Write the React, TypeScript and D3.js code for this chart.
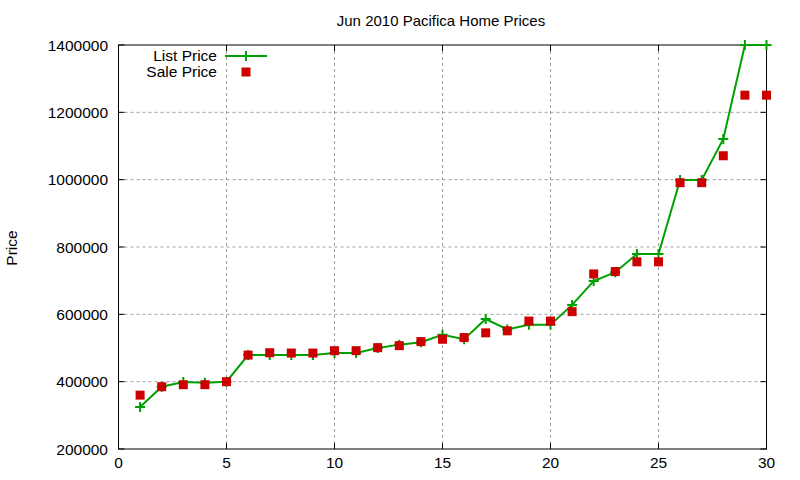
import React from "react";
import * as d3 from "d3";

const days = d3.range(1, 31);
const listPrice = [325000, 385000, 399000, 397000, 400000, 479000, 479000, 479000, 479000, 485000, 485000, 500000, 510000, 517000, 539000, 526000, 586000, 555000, 569000, 569000, 628000, 699000, 725000, 779000, 779000, 999000, 999000, 1121000, 1400000, 1400000];
const salePrice = [360000, 385000, 391000, 391000, 400000, 479000, 486000, 485000, 485000, 492000, 492000, 501000, 507000, 519000, 526000, 531000, 545000, 551000, 580000, 580000, 608000, 720000, 727000, 756000, 756000, 991000, 991000, 1071000, 1251000, 1251000];
const xTicks = [0, 5, 10, 15, 20, 25, 30];
const yTicks = [200000, 400000, 600000, 800000, 1000000, 1200000, 1400000];

const W = 800, H = 480;
const L = 118.5, R = 766.5, T = 45, B = 449;
const FONT = "Liberation Sans, Arial, sans-serif";
const GREEN = "#00a000";
const RED = "#cc0000";

export default function App() {
  const x = d3.scaleLinear().domain([0, 30]).range([L, R]);
  const y = d3.scaleLinear().domain([200000, 1400000]).range([B, T]);
  const line = d3.line<number>().x((_, i) => x(days[i])).y((d) => y(d));
  const tl = 6;
  return (
    <svg width={W} height={H} style={{ position: "absolute", left: 0, top: 0, background: "#fff" }}>
      <rect width={W} height={H} fill="#fff" />
      {/* grid */}
      {xTicks.filter((t) => t > 0 && t < 30).map((t) => (
        <line key={"gx" + t} x1={x(t)} x2={x(t)} y1={T} y2={B} stroke="#a0a0a0" strokeWidth={1} strokeDasharray="3,3" />
      ))}
      {yTicks.filter((t) => t > 200000 && t < 1400000).map((t) => (
        <line key={"gy" + t} x1={L} x2={R} y1={y(t)} y2={y(t)} stroke="#a0a0a0" strokeWidth={1} strokeDasharray="3,3" />
      ))}
      {/* ticks */}
      {xTicks.map((t) => (
        <g key={"tx" + t}>
          <line x1={x(t)} x2={x(t)} y1={B} y2={B - tl} stroke="#000" />
          <line x1={x(t)} x2={x(t)} y1={T} y2={T + tl} stroke="#000" />
          <text x={x(t)} y={468} textAnchor="middle" fontFamily={FONT} fontSize={15.5} fill="#000">{t}</text>
        </g>
      ))}
      {yTicks.map((t) => (
        <g key={"ty" + t}>
          <line x1={L} x2={L + tl} y1={y(t)} y2={y(t)} stroke="#000" />
          <line x1={R} x2={R - tl} y1={y(t)} y2={y(t)} stroke="#000" />
          <text x={108} y={y(t) + 5.5} textAnchor="end" fontFamily={FONT} fontSize={15.5} fill="#000">{t}</text>
        </g>
      ))}
      {/* frame */}
      <rect x={L} y={T} width={R - L} height={B - T} fill="none" stroke="#000" strokeWidth={1} />
      {/* list price line */}
      <path d={line(listPrice) || ""} fill="none" stroke={GREEN} strokeWidth={2} />
      {listPrice.map((v, i) => (
        <path key={"p" + i} d={`M${x(days[i]) - 5},${y(v)}h10M${x(days[i])},${y(v) - 5}v10`} stroke={GREEN} strokeWidth={2} />
      ))}
      {salePrice.map((v, i) => (
        <rect key={"s" + i} x={x(days[i]) - 4.5} y={y(v) - 4.5} width={9} height={9} fill={RED} />
      ))}
      {/* legend */}
      <text x={217} y={61} textAnchor="end" fontFamily={FONT} fontSize={15.5} fill="#000">List Price</text>
      <line x1={225} x2={267} y1={56} y2={56} stroke={GREEN} strokeWidth={2} />
      <path d="M241,56h10M246,51v10" stroke={GREEN} strokeWidth={2} />
      <text x={217} y={77} textAnchor="end" fontFamily={FONT} fontSize={15.5} fill="#000">Sale Price</text>
      <rect x={241.5} y={67.5} width={9} height={9} fill={RED} />
      {/* title */}
      <text x={441} y={26} textAnchor="middle" fontFamily={FONT} fontSize={15} fill="#000">Jun 2010 Pacifica Home Prices</text>
      <text transform="translate(17,248) rotate(-90)" textAnchor="middle" fontFamily={FONT} fontSize={15.5} fill="#000">Price</text>
    </svg>
  );
}
